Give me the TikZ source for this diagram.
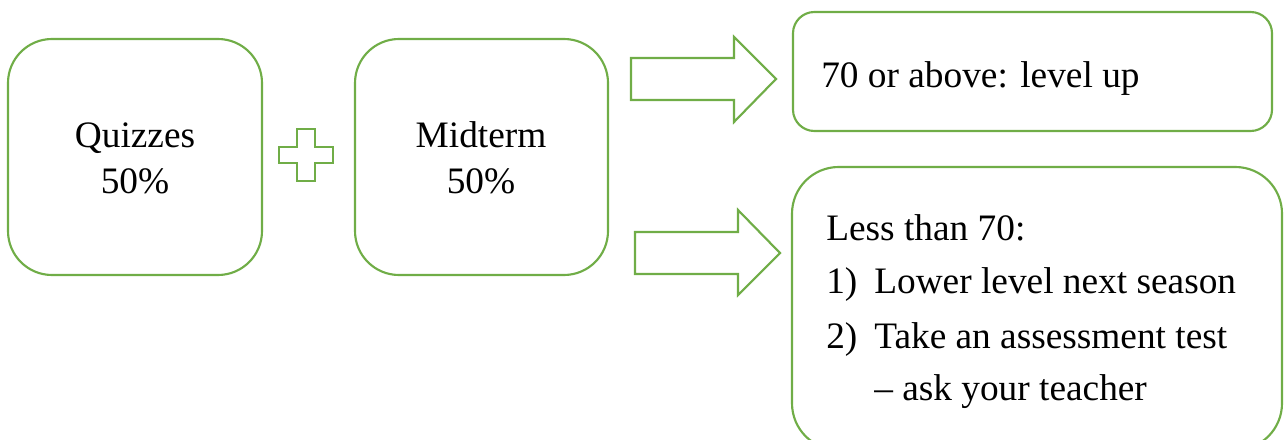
\documentclass[tikz,border=0pt]{standalone}
\usepackage{fontspec}
\setmainfont{Liberation Serif}
\definecolor{grn}{HTML}{70AD47}
\begin{document}
\begin{tikzpicture}[x=0.75pt,y=-0.75pt,
  box/.style={draw=grn,line width=1.6pt,rounded corners=#1},
  shp/.style={draw=grn,line width=1.6pt,line join=miter,fill=white},
  txt/.style={font=\fontsize{28}{33}\selectfont,inner sep=0pt}]
\useasboundingbox (0,0) rectangle (1284,439);
\begin{scope}
\clip (0,0) rectangle (1284,439);
% boxes
\draw[box=33pt] (8,39) rectangle (262,275);
\draw[box=33pt] (355,39) rectangle (608,275);
\draw[box=16pt] (793,12) rectangle (1272,131);
\draw[box=35pt] (792,167) rectangle (1282,450);
% plus
\draw[shp] (297,129) -- (315,129) -- (315,147) -- (333,147) -- (333,163) -- (315,163) -- (315,181) -- (297,181) -- (297,163) -- (279,163) -- (279,147) -- (297,147) -- cycle;
% arrows
\draw[shp] (631,58) -- (734,58) -- (734,37) -- (776,79) -- (734,122) -- (734,100) -- (631,100) -- cycle;
\draw[shp] (635,232) -- (738,232) -- (738,210) -- (780,253) -- (738,295) -- (738,274) -- (635,274) -- cycle;
\end{scope}
% texts
\node[txt,anchor=base] (q1) at (135,147) {Quizzes};
\node[txt,anchor=base] (q2) at (135,193) {50\%};
\node[txt,anchor=base] (m1) at (481,147) {Midterm};
\node[txt,anchor=base] (m2) at (481,193) {50\%};
\node[txt,anchor=base west] (up) at (821,87) {70 or above: level up};
\node[txt,anchor=base west] (l0) at (826,240) {Less than 70:};
\node[txt,anchor=base west] (l1a) at (826,293) {1)};
\node[txt,anchor=base west] (l1) at (874,293) {Lower level next season};
\node[txt,anchor=base west] (l2a) at (826,348) {2)};
\node[txt,anchor=base west] (l2) at (874,348) {Take an assessment test};
\node[txt,anchor=base west] (l3) at (874,400) {– ask your teacher};
\end{tikzpicture}
\end{document}
